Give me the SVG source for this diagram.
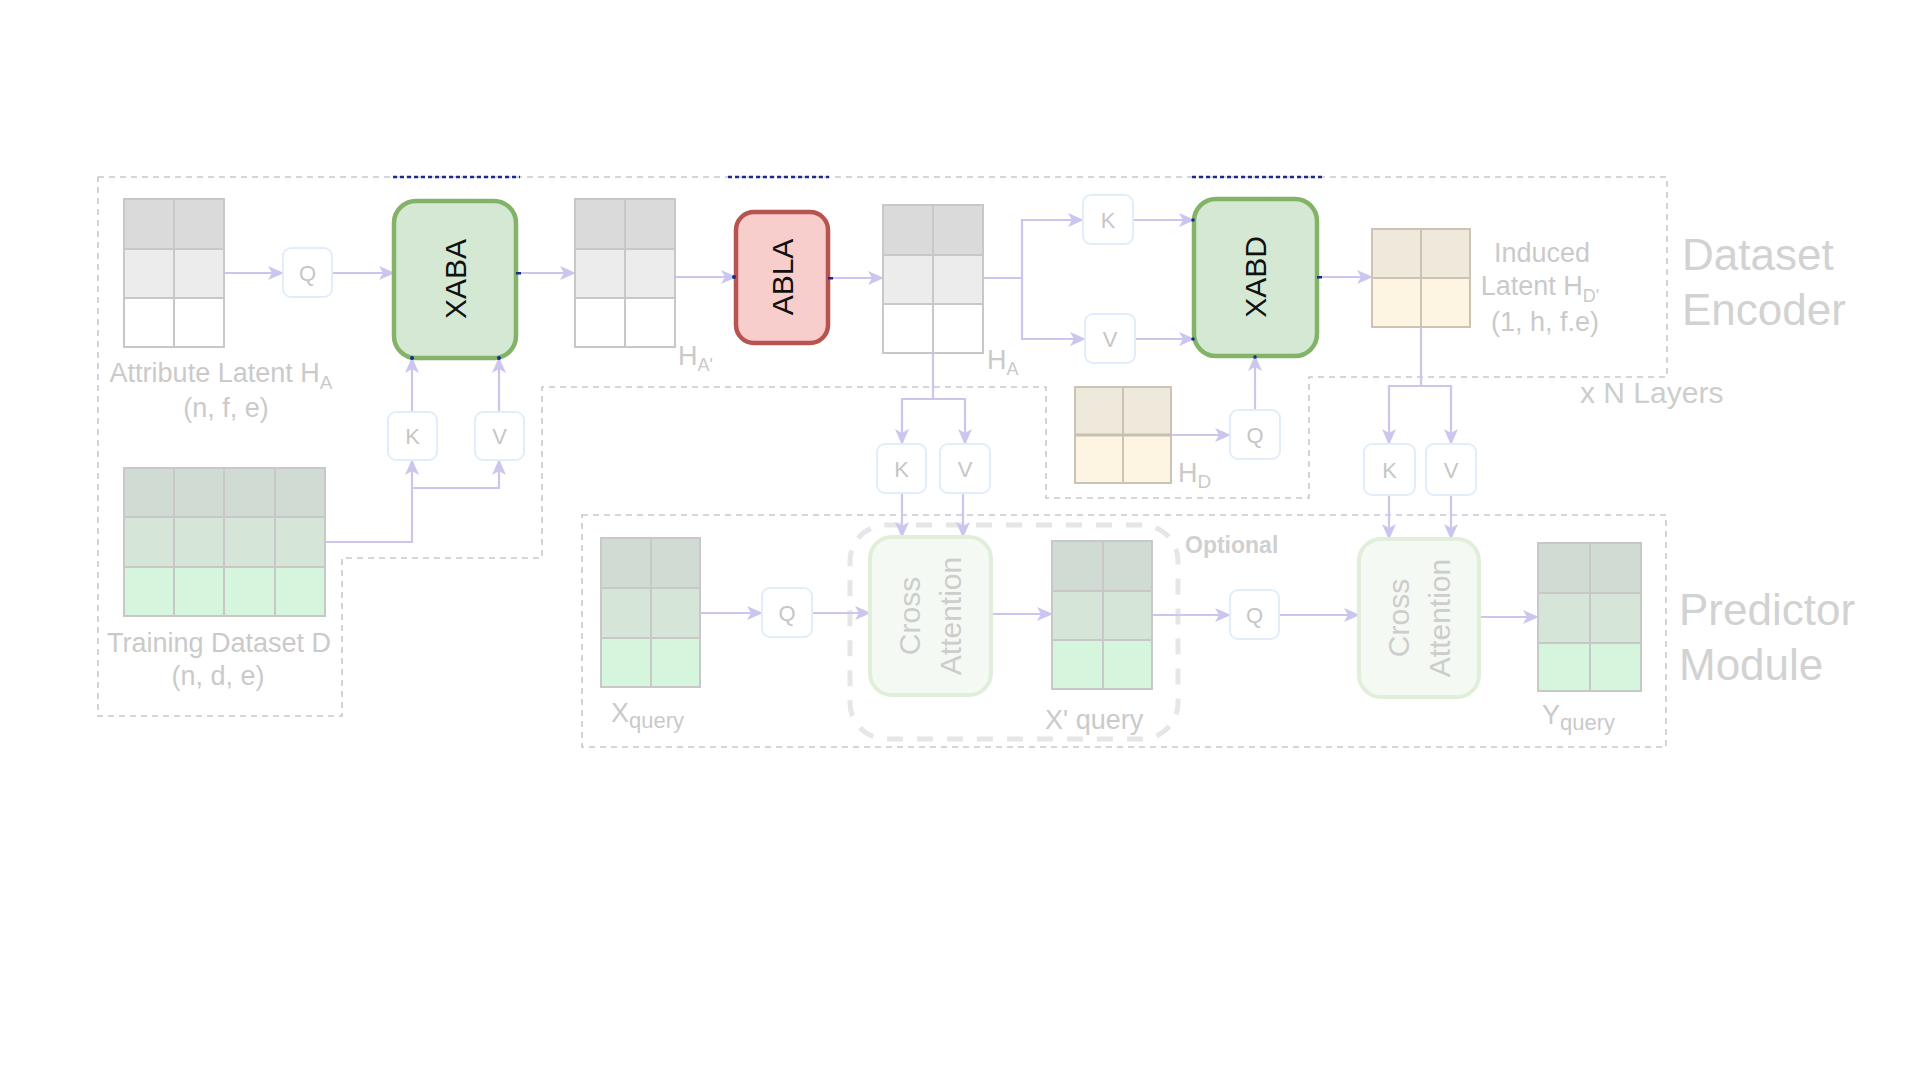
<svg xmlns="http://www.w3.org/2000/svg" width="1920" height="1080" viewBox="0 0 1920 1080">
<style>
text{font-family:"Liberation Sans",Arial,sans-serif}
.lbl{fill:#cacaca;font-size:27px}
.big{fill:#d2d2d2;font-size:44px}
.kq{fill:#fff;stroke:#e2edfb;stroke-width:2}
.kqt{fill:#c6c6c6;font-size:22px;text-anchor:middle}
.conn{fill:none;stroke:#cac6ee;stroke-width:2.2}
.grid{stroke:#c8c8c8;stroke-width:2}
.bord{fill:none;stroke:#c8c8d2;stroke-width:1.6;stroke-dasharray:6 5}
.navy{stroke:#1c2a8c;stroke-width:2.5;stroke-dasharray:4 3}
.blk{fill:#111;font-size:30px;text-anchor:middle}
.ca{fill:#f5f9f3;stroke:#e1eed9;stroke-width:4}
.cat{fill:#cdcdcd;font-size:30px;text-anchor:middle}
.dot{fill:#1c2a8c}
</style>
<defs>
<marker id="arr" viewBox="0 0 16 14" refX="15" refY="7" markerWidth="16" markerHeight="14" orient="auto" markerUnits="userSpaceOnUse">
<path d="M0,0 L16,7 L0,14 L4,7 Z" fill="#cac6ee"/>
</marker>
</defs>
<rect width="1920" height="1080" fill="#fff"/>

<g id="borders">
<polygon class="bord" points="98,177 1667,177 1667,377 1309,377 1309,498 1046,498 1046,387 542,387 542,558 342,558 342,716 98,716"/>
<rect class="bord" x="582" y="515" width="1084" height="232"/>
<rect x="850" y="525" width="328" height="214" rx="36" fill="none" stroke="#e6e6e6" stroke-width="5" stroke-dasharray="16 14"/>
<line class="navy" x1="393" y1="177" x2="520" y2="177"/>
<line class="navy" x1="728" y1="177" x2="829" y2="177"/>
<line class="navy" x1="1192" y1="177" x2="1325" y2="177"/>
<text x="1185" y="553" font-size="23" font-weight="bold" fill="#d0d0d0">Optional</text>
<text class="big" x="1682" y="270">Dataset</text>
<text class="big" x="1682" y="325">Encoder</text>
<text class="big" x="1679" y="625">Predictor</text>
<text class="big" x="1679" y="680">Module</text>
<text x="1580" y="403" font-size="30" fill="#cdcdcd">x N Layers</text>
</g>

<g id="connectors">
<path class="conn" marker-end="url(#arr)" d="M224,273 H283"/>
<path class="conn" marker-end="url(#arr)" d="M332,273 H394"/>
<path class="conn" marker-end="url(#arr)" d="M516,273 H575"/>
<path class="conn" marker-end="url(#arr)" d="M675,277 H736"/>
<path class="conn" marker-end="url(#arr)" d="M828,278 H883"/>
<path class="conn" marker-end="url(#arr)" d="M983,278 H1022 V220 H1083"/>
<path class="conn" marker-end="url(#arr)" d="M1022,278 V339 H1085"/>
<path class="conn" marker-end="url(#arr)" d="M1133,220 H1194"/>
<path class="conn" marker-end="url(#arr)" d="M1135,339 H1194"/>
<path class="conn" marker-end="url(#arr)" d="M1317,277 H1372"/>
<path class="conn" marker-end="url(#arr)" d="M325,542 H412 V460"/>
<path class="conn" marker-end="url(#arr)" d="M412,488 H499 V460"/>
<path class="conn" marker-end="url(#arr)" d="M412,412 V358"/>
<path class="conn" marker-end="url(#arr)" d="M499,412 V358"/>
<path class="conn" marker-end="url(#arr)" d="M933,353 V399 H902 V444"/>
<path class="conn" marker-end="url(#arr)" d="M933,399 H965 V444"/>
<path class="conn" marker-end="url(#arr)" d="M902,493 V537"/>
<path class="conn" marker-end="url(#arr)" d="M963,493 V537"/>
<path class="conn" marker-end="url(#arr)" d="M1171,435 H1230"/>
<path class="conn" marker-end="url(#arr)" d="M1255,410 V356"/>
<path class="conn" marker-end="url(#arr)" d="M1421,327 V386 H1389 V444"/>
<path class="conn" marker-end="url(#arr)" d="M1421,386 H1451 V444"/>
<path class="conn" marker-end="url(#arr)" d="M1389,495 V539"/>
<path class="conn" marker-end="url(#arr)" d="M1451,495 V539"/>
<path class="conn" marker-end="url(#arr)" d="M700,613 H762"/>
<path class="conn" marker-end="url(#arr)" d="M812,613 H870"/>
<path class="conn" marker-end="url(#arr)" d="M991,614 H1052"/>
<path class="conn" marker-end="url(#arr)" d="M1152,615 H1230"/>
<path class="conn" marker-end="url(#arr)" d="M1279,615 H1359"/>
<path class="conn" marker-end="url(#arr)" d="M1479,617 H1538"/>
</g>

<g id="attr-latent">
<rect x="124" y="199" width="100" height="50" fill="#dadada"/>
<rect x="124" y="249" width="100" height="49" fill="#ececec"/>
<rect x="124" y="298" width="100" height="49" fill="#fff"/>
<path class="grid" fill="none" d="M124,199 H224 V347 H124 Z M174,199 V347 M124,249 H224 M124,298 H224"/>
<text class="lbl" x="221" y="382" text-anchor="middle">Attribute Latent H<tspan font-size="19" dy="7">A</tspan></text>
<text class="lbl" x="226" y="417" text-anchor="middle">(n, f, e)</text>
</g>

<g id="q1"><rect class="kq" x="283" y="248" width="49" height="49" rx="8"/><text class="kqt" x="307.5" y="281">Q</text></g>

<g id="xaba">
<rect x="394" y="201" width="122" height="157" rx="22" fill="#d5e8d4" stroke="#82b366" stroke-width="4.5"/>
<text class="blk" transform="translate(455,279) rotate(-90)" y="11">XABA</text>
</g>

<g id="k1"><rect class="kq" x="388" y="412" width="49" height="48" rx="8"/><text class="kqt" x="412.5" y="444">K</text></g>
<g id="v1"><rect class="kq" x="475" y="412" width="49" height="48" rx="8"/><text class="kqt" x="499.5" y="444">V</text></g>

<g id="training">
<rect x="124" y="468" width="201" height="49" fill="#d0dcd3"/>
<rect x="124" y="517" width="201" height="50" fill="#d5e6d8"/>
<rect x="124" y="567" width="201" height="49" fill="#d6f5dd"/>
<path class="grid" fill="none" d="M124,468 H325 V616 H124 Z M174,468 V616 M224,468 V616 M275,468 V616 M124,517 H325 M124,567 H325"/>
<text class="lbl" x="219" y="652" text-anchor="middle">Training Dataset D</text>
<text class="lbl" x="218" y="685" text-anchor="middle">(n, d, e)</text>
</g>

<g id="ha-prime">
<rect x="575" y="199" width="100" height="50" fill="#dadada"/>
<rect x="575" y="249" width="100" height="49" fill="#ececec"/>
<rect x="575" y="298" width="100" height="49" fill="#fff"/>
<path class="grid" fill="none" d="M575,199 H675 V347 H575 Z M625,199 V347 M575,249 H675 M575,298 H675"/>
<text class="lbl" x="678" y="365" font-size="25">H<tspan font-size="18" dy="6">A'</tspan></text>
</g>

<g id="abla">
<rect x="736" y="212" width="92" height="131" rx="18" fill="#f8cecc" stroke="#b85450" stroke-width="4.5"/>
<text class="blk" transform="translate(782,277) rotate(-90)" y="11">ABLA</text>
</g>

<g id="ha">
<rect x="883" y="205" width="100" height="50" fill="#dadada"/>
<rect x="883" y="255" width="100" height="49" fill="#ececec"/>
<rect x="883" y="304" width="100" height="49" fill="#fff"/>
<path class="grid" fill="none" d="M883,205 H983 V353 H883 Z M933,205 V353 M883,255 H983 M883,304 H983"/>
<text class="lbl" x="987" y="369" font-size="25">H<tspan font-size="18" dy="6">A</tspan></text>
</g>

<g id="k2"><rect class="kq" x="1083" y="195" width="50" height="49" rx="8"/><text class="kqt" x="1108" y="228">K</text></g>
<g id="v2"><rect class="kq" x="1085" y="314" width="50" height="49" rx="8"/><text class="kqt" x="1110" y="347">V</text></g>

<g id="xabd">
<rect x="1194" y="199" width="123" height="157" rx="22" fill="#d5e8d4" stroke="#82b366" stroke-width="4.5"/>
<text class="blk" transform="translate(1255,277) rotate(-90)" y="11">XABD</text>
</g>

<g id="induced">
<rect x="1372" y="229" width="98" height="49" fill="#efe9dc"/>
<rect x="1372" y="278" width="98" height="49" fill="#fdf5e1"/>
<path fill="none" stroke="#cbc3b3" stroke-width="2" d="M1372,229 H1470 V327 H1372 Z M1421,229 V327 M1372,278 H1470"/>
<text class="lbl" x="1542" y="262" text-anchor="middle" font-size="26">Induced</text>
<text class="lbl" x="1540" y="295" text-anchor="middle" font-size="26">Latent H<tspan font-size="18" dy="7">D'</tspan></text>
<text class="lbl" x="1545" y="331" text-anchor="middle" font-size="26">(1, h, f.e)</text>
</g>

<g id="hd">
<rect x="1075" y="387" width="96" height="48" fill="#efe9dc"/>
<rect x="1075" y="435" width="96" height="48" fill="#fdf5e1"/>
<path fill="none" stroke="#cbc3b3" stroke-width="2" d="M1075,387 H1171 V483 H1075 Z M1123,387 V483"/>
<line x1="1075" y1="435" x2="1171" y2="435" stroke="#c6c0b4" stroke-width="3"/>
<text class="lbl" x="1178" y="482" font-size="26">H<tspan font-size="19" dy="6">D</tspan></text>
</g>

<g id="q2"><rect class="kq" x="1230" y="410" width="50" height="49" rx="8"/><text class="kqt" x="1255" y="443">Q</text></g>

<g id="k3"><rect class="kq" x="877" y="444" width="49" height="49" rx="8"/><text class="kqt" x="901.5" y="477">K</text></g>
<g id="v3"><rect class="kq" x="940" y="444" width="50" height="49" rx="8"/><text class="kqt" x="965" y="477">V</text></g>
<g id="k4"><rect class="kq" x="1364" y="444" width="51" height="51" rx="8"/><text class="kqt" x="1389.5" y="478">K</text></g>
<g id="v4"><rect class="kq" x="1426" y="444" width="50" height="51" rx="8"/><text class="kqt" x="1451" y="478">V</text></g>

<g id="xquery">
<rect x="601" y="538" width="99" height="50" fill="#d0dcd3"/>
<rect x="601" y="588" width="99" height="50" fill="#d5e6d8"/>
<rect x="601" y="638" width="99" height="49" fill="#d6f5dd"/>
<path class="grid" fill="none" d="M601,538 H700 V687 H601 Z M651,538 V687 M601,588 H700 M601,638 H700"/>
<text class="lbl" x="611" y="722">X<tspan font-size="22" dy="6">query</tspan></text>
</g>

<g id="q3"><rect class="kq" x="762" y="588" width="50" height="49" rx="8"/><text class="kqt" x="787" y="621">Q</text></g>

<g id="ca1">
<rect class="ca" x="870" y="537" width="121" height="158" rx="22"/>
<text class="cat" transform="translate(930,616) rotate(-90)"><tspan x="0" y="-10">Cross</tspan><tspan x="0" y="31">Attention</tspan></text>
</g>

<g id="xprime">
<rect x="1052" y="541" width="100" height="50" fill="#d0dcd3"/>
<rect x="1052" y="591" width="100" height="49" fill="#d5e6d8"/>
<rect x="1052" y="640" width="100" height="49" fill="#d6f5dd"/>
<path class="grid" fill="none" d="M1052,541 H1152 V689 H1052 Z M1103,541 V689 M1052,591 H1152 M1052,640 H1152"/>
<text class="lbl" x="1045" y="729">X' query</text>
</g>

<g id="q4"><rect class="kq" x="1230" y="590" width="49" height="49" rx="8"/><text class="kqt" x="1254.5" y="623">Q</text></g>

<g id="ca2">
<rect class="ca" x="1359" y="539" width="120" height="158" rx="22"/>
<text class="cat" transform="translate(1419,618) rotate(-90)"><tspan x="0" y="-10">Cross</tspan><tspan x="0" y="31">Attention</tspan></text>
</g>

<g id="yquery">
<rect x="1538" y="543" width="103" height="50" fill="#d0dcd3"/>
<rect x="1538" y="593" width="103" height="50" fill="#d5e6d8"/>
<rect x="1538" y="643" width="103" height="48" fill="#d6f5dd"/>
<path class="grid" fill="none" d="M1538,543 H1641 V691 H1538 Z M1590,543 V691 M1538,593 H1641 M1538,643 H1641"/>
<text class="lbl" x="1542" y="724">Y<tspan font-size="22" dy="6">query</tspan></text>
</g>

<g id="anchors">
<circle class="dot" cx="412" cy="358" r="2"/>
<circle class="dot" cx="499" cy="358" r="2"/>
<rect class="dot" x="516" y="272" width="5" height="2.5"/>
<circle class="dot" cx="734" cy="277" r="2"/>
<rect class="dot" x="828" y="277" width="5" height="2.5"/>
<circle class="dot" cx="1193" cy="220" r="1.8"/>
<circle class="dot" cx="1193" cy="339" r="1.8"/>
<rect class="dot" x="1317" y="276" width="5" height="2.5"/>
<circle class="dot" cx="1255" cy="357" r="1.8"/>
</g>
</svg>
